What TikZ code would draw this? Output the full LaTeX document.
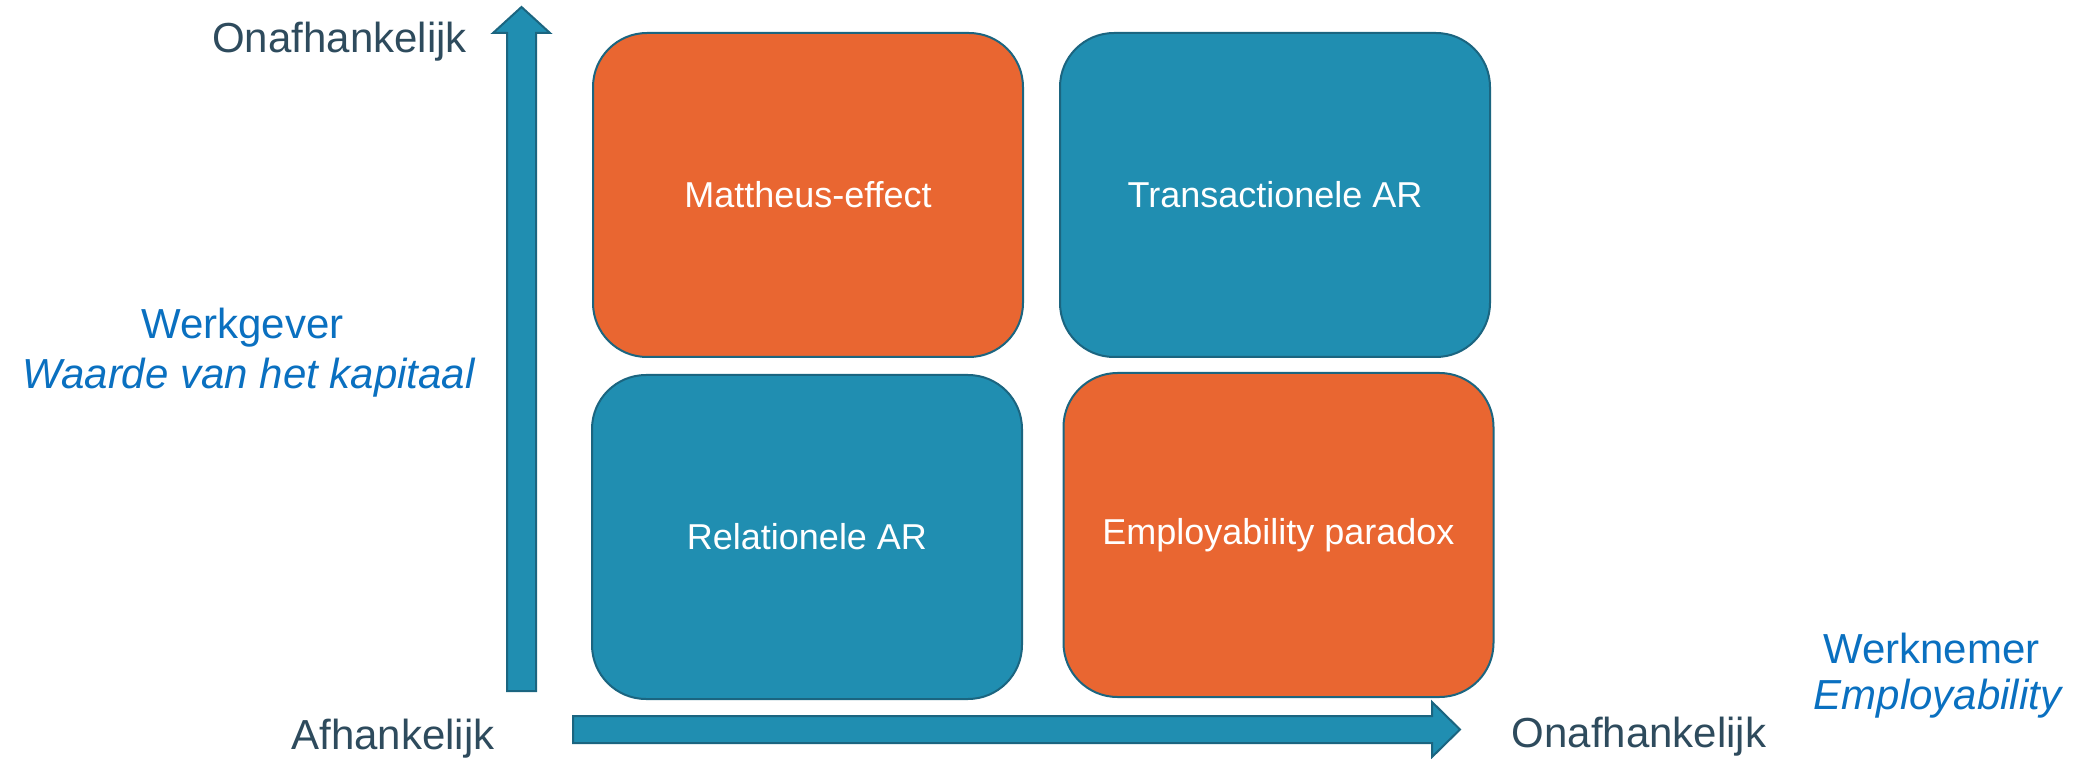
\documentclass[tikz,border=0pt]{standalone}
\usepackage{fontspec}
\setmainfont{Liberation Sans}
\definecolor{boxorange}{HTML}{E96631}
\definecolor{boxblue}{HTML}{208EB1}
\definecolor{edgeteal}{HTML}{1B6580}
\definecolor{labeldark}{HTML}{2E4B5D}
\definecolor{labelblue}{HTML}{0A70C0}
\tikzset{
  quad/.style={draw=edgeteal, line width=1pt, rounded corners=27pt, minimum width=215pt, minimum height=162pt, inner sep=0pt, text=white, font=\fontsize{18}{21}\selectfont},
  orangebox/.style={quad, fill=boxorange},
  bluebox/.style={quad, fill=boxblue},
  axisarrow/.style={draw=edgeteal, line width=1pt, fill=boxblue, line join=miter},
  darklabel/.style={anchor=base, inner sep=0pt, text=labeldark, font=\fontsize{21}{25}\selectfont},
  bluelabel/.style={anchor=base, inner sep=0pt, text=labelblue, font=\fontsize{21}{25}\selectfont},
}
\begin{document}
\begin{tikzpicture}[x=0.5pt, y=-0.5pt]
\useasboundingbox (0,0) rectangle (2085,759);
% axis arrows
\path[axisarrow] (507,691) -- (507,33) -- (493,33) -- (521.5,7) -- (550,33) -- (536,33) -- (536,691) -- cycle;
\path[axisarrow] (573,716) -- (1432,716) -- (1432,702) -- (1460,729.5) -- (1432,757) -- (1432,743) -- (573,743) -- cycle;
% quadrants
\node[orangebox] (mattheus) at (808,195) {Mattheus-effect};
\node[bluebox] (transactioneel) at (1275,195) {Transactionele AR};
\node[bluebox] (relationeel) at (807,537) {Relationele AR};
\node[orangebox] (paradox) at (1278.5,535) {Employability paradox};
% axis labels
\node[darklabel] (ytop) at (339.5,53) {Onafhankelijk};
\node[bluelabel] (ytitle) at (242.5,339) {Werkgever};
\node[bluelabel] (ysub) at (248.5,389) {\itshape Waarde van het kapitaal};
\node[darklabel] (origin) at (393,749) {Afhankelijk};
\node[darklabel] (xright) at (1639,747) {Onafhankelijk};
\node[bluelabel] (xtitle) at (1931.5,663) {Werknemer};
\node[bluelabel] (xsub) at (1937.5,709) {\itshape Employability};
\end{tikzpicture}
\end{document}
